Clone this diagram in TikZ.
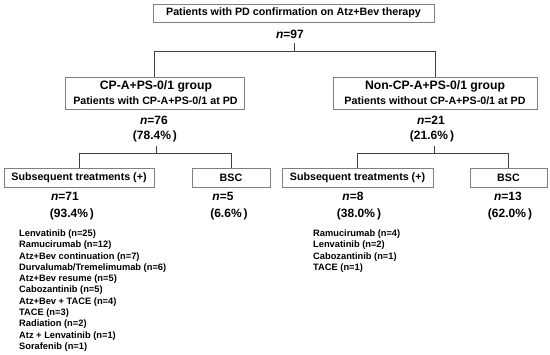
\documentclass[tikz,border=0pt]{standalone}
\usepackage{fontspec}
\setmainfont{Liberation Sans}
\begin{document}
\begin{tikzpicture}[x=1pt,y=-1pt,
  box/.style={draw=black!50, line width=0.8pt, fill=white, inner sep=0pt, align=center},
  conn/.style={draw=black!75, line width=0.9pt},
  txt/.style={inner sep=0pt, align=center},
  fmain/.style={font=\fontsize{10.7}{12}\selectfont\bfseries},
  ftitle/.style={font=\fontsize{12.2}{14}\selectfont\bfseries},
  fcount/.style={font=\fontsize{12}{14}\selectfont\bfseries},
  flist/.style={font=\fontsize{9.3}{11.3}\selectfont\bfseries, align=left, inner sep=0pt, anchor=north west}
]
\useasboundingbox (0,0) rectangle (550,355);

% top
\node[box, fmain, minimum width=281pt, minimum height=18pt] (top) at (293.5,13) {Patients with PD confirmation on Atz+Bev therapy};
\node[txt, fcount] (n97) at (290,34) {\textit{n}=97};
\coordinate (t1) at (294,43);
\coordinate (f1) at (294,51);

% groups
\node[box, minimum width=179pt, minimum height=32pt] (cpa) at (154.5,93) {};
\node[txt, ftitle] (cpat) at (156,86) {CP-A+PS-0/1 group};
\node[txt, fmain] (cpas) at (155.5,101) {Patients with CP-A+PS-0/1 at PD};
\node[box, minimum width=204pt, minimum height=32pt] (ncp) at (435,93) {};
\node[txt, ftitle] (ncpt) at (435,86) {Non-CP-A+PS-0/1 group};
\node[txt, fmain] (ncps) at (435,101) {Patients without CP-A+PS-0/1 at PD};

\draw[conn] (t1) -- (f1);
\draw[conn] (f1) -| (cpa.north);
\draw[conn] (f1) -| (ncp.north);

% counts level 2
\node[txt, fcount] (n76) at (154,120) {\textit{n}=76};
\node[txt, fcount] (p76) at (155,136) {(78.4\%\,)};
\node[txt, fcount] (n21) at (431,120) {\textit{n}=21};
\node[txt, fcount] (p21) at (432,136) {(21.6\%\,)};
\coordinate (t2) at (156,146);
\coordinate (f2) at (156,153);
\coordinate (t3) at (434,146);
\coordinate (f3) at (434,153);

% level 3 boxes
\node[box, fmain, minimum width=150pt, minimum height=19pt] (sub1) at (79,177.5) {Subsequent treatments (+)};
\node[box, fmain, minimum width=78pt, minimum height=19pt] (bsc1) at (231,177.5) {BSC};
\node[box, fmain, minimum width=151pt, minimum height=19pt] (sub2) at (357.5,177.5) {Subsequent treatments (+)};
\node[box, fmain, minimum width=77pt, minimum height=19pt] (bsc2) at (508.5,177.5) {BSC};

\draw[conn] (t2) -- (f2);
\draw[conn] (f2) -| (sub1.north);
\draw[conn] (f2) -| (bsc1.north);
\draw[conn] (t3) -- (f3);
\draw[conn] (f3) -| (sub2.north);
\draw[conn] (f3) -| (bsc2.north);

% counts level 3
\node[txt, fcount] (n71) at (65,196) {\textit{n}=71};
\node[txt, fcount] (p71) at (72,214) {(93.4\%\,)};
\node[txt, fcount] (n5) at (223,196) {\textit{n}=5};
\node[txt, fcount] (p5) at (229,214) {(6.6\%\,)};
\node[txt, fcount] (n8) at (353,196) {\textit{n}=8};
\node[txt, fcount] (p8) at (359,214) {(38.0\%\,)};
\node[txt, fcount] (n13) at (508,196) {\textit{n}=13};
\node[txt, fcount] (p13) at (510,214) {(62.0\%\,)};

% lists
\node[flist] (list1) at (19,229.5) {Lenvatinib (n=25)\\Ramucirumab (n=12)\\Atz+Bev continuation (n=7)\\Durvalumab/Tremelimumab (n=6)\\Atz+Bev resume (n=5)\\Cabozantinib (n=5)\\Atz+Bev + TACE (n=4)\\TACE (n=3)\\Radiation (n=2)\\Atz + Lenvatinib (n=1)\\Sorafenib (n=1)};
\node[flist] (list2) at (313,229.5) {Ramucirumab (n=4)\\Lenvatinib (n=2)\\Cabozantinib (n=1)\\TACE (n=1)};
\end{tikzpicture}
\end{document}
